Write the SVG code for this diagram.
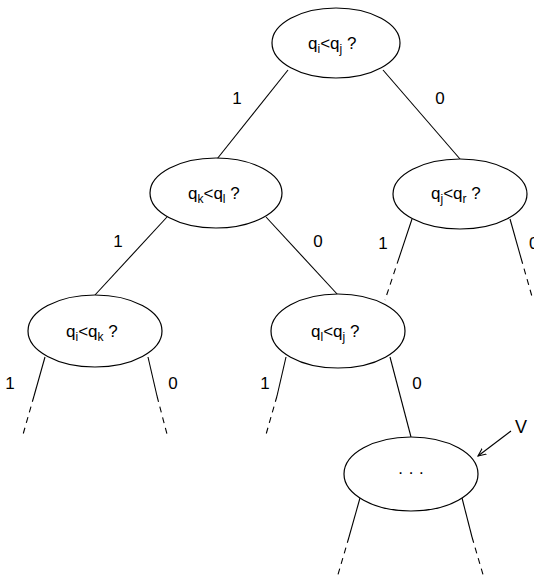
<svg xmlns="http://www.w3.org/2000/svg" width="534" height="581" viewBox="0 0 534 581">
<style>
.n{fill:#fff;stroke:#000;stroke-width:1.2}
.e{stroke:#000;stroke-width:1.1;fill:none}
.d{stroke:#000;stroke-width:1.1;fill:none;stroke-dasharray:6 5}
.t{font-family:"Liberation Sans",Arial,sans-serif;font-size:17px;fill:#000}
.s{font-size:12px}
</style>
<defs>
<marker id="ah" viewBox="0 0 10 10" refX="9" refY="5" markerWidth="9" markerHeight="9" orient="auto" markerUnits="userSpaceOnUse">
<path d="M0,1 L9,5 L0,9" fill="none" stroke="#000" stroke-width="1.2"/>
</marker>
</defs>
<rect width="534" height="581" fill="#fff"/>
<g id="connectors">
<line class="e" x1="288" y1="70" x2="217" y2="159"/>
<line class="e" x1="383" y1="70" x2="460" y2="159"/>
<line class="e" x1="167" y1="217" x2="95" y2="295"/>
<line class="e" x1="266" y1="217" x2="338" y2="295"/>
<line class="e" x1="412" y1="219" x2="399" y2="258"/>
<line class="d" x1="399" y1="258" x2="385" y2="300"/>
<line class="e" x1="510" y1="219" x2="521" y2="258"/>
<line class="d" x1="521" y1="258" x2="533" y2="300"/>
<line class="e" x1="45" y1="357" x2="34" y2="396"/>
<line class="d" x1="34" y1="396" x2="22" y2="438"/>
<line class="e" x1="148" y1="357" x2="157" y2="396"/>
<line class="d" x1="157" y1="396" x2="168" y2="438"/>
<line class="e" x1="286" y1="357" x2="277" y2="396"/>
<line class="d" x1="277" y1="396" x2="265" y2="438"/>
<line class="e" x1="390" y1="357" x2="411" y2="437"/>
<line class="e" x1="360" y1="498" x2="349" y2="537"/>
<line class="d" x1="349" y1="537" x2="337" y2="578"/>
<line class="e" x1="462" y1="498" x2="472" y2="537"/>
<line class="d" x1="472" y1="537" x2="484" y2="578"/>
<line class="e" x1="511" y1="431" x2="478" y2="456" marker-end="url(#ah)"/>
<text class="t" x="237" y="104" text-anchor="middle">1</text>
<text class="t" x="440" y="104" text-anchor="middle">0</text>
<text class="t" x="118" y="247" text-anchor="middle">1</text>
<text class="t" x="318" y="247" text-anchor="middle">0</text>
<text class="t" x="383" y="249" text-anchor="middle">1</text>
<text class="t" x="529" y="249">0</text>
<text class="t" x="10" y="389" text-anchor="middle">1</text>
<text class="t" x="173" y="389" text-anchor="middle">0</text>
<text class="t" x="265" y="389" text-anchor="middle">1</text>
<text class="t" x="417" y="389" text-anchor="middle">0</text>
<text class="t" x="521" y="433" text-anchor="middle" style="font-size:18px">V</text>
</g>
<g id="root">
<ellipse class="n" cx="336" cy="43" rx="64" ry="35"/>
<text class="t" x="308" y="49">q<tspan class="s" dy="4">i</tspan><tspan dy="-4">&lt;q</tspan><tspan class="s" dy="4">j</tspan><tspan dy="-4"> ?</tspan></text>
</g>
<g id="n_kl">
<ellipse class="n" cx="216" cy="193" rx="66" ry="35"/>
<text class="t" x="188" y="199">q<tspan class="s" dy="4">k</tspan><tspan dy="-4">&lt;q</tspan><tspan class="s" dy="4">l</tspan><tspan dy="-4"> ?</tspan></text>
</g>
<g id="n_jr">
<ellipse class="n" cx="460" cy="194" rx="67" ry="35"/>
<text class="t" x="431" y="199">q<tspan class="s" dy="4">j</tspan><tspan dy="-4">&lt;q</tspan><tspan class="s" dy="4">r</tspan><tspan dy="-4"> ?</tspan></text>
</g>
<g id="n_ik">
<ellipse class="n" cx="95" cy="331" rx="67" ry="36"/>
<text class="t" x="66" y="337">q<tspan class="s" dy="4">i</tspan><tspan dy="-4">&lt;q</tspan><tspan class="s" dy="4">k</tspan><tspan dy="-4"> ?</tspan></text>
</g>
<g id="n_lj">
<ellipse class="n" cx="338" cy="331" rx="67" ry="37"/>
<text class="t" x="311" y="337">q<tspan class="s" dy="4">l</tspan><tspan dy="-4">&lt;q</tspan><tspan class="s" dy="4">j</tspan><tspan dy="-4"> ?</tspan></text>
</g>
<g id="n_v">
<ellipse class="n" cx="411" cy="474" rx="67" ry="37"/>
<text class="t" x="411" y="478" text-anchor="middle">·  ·  ·</text>
</g>
</svg>
